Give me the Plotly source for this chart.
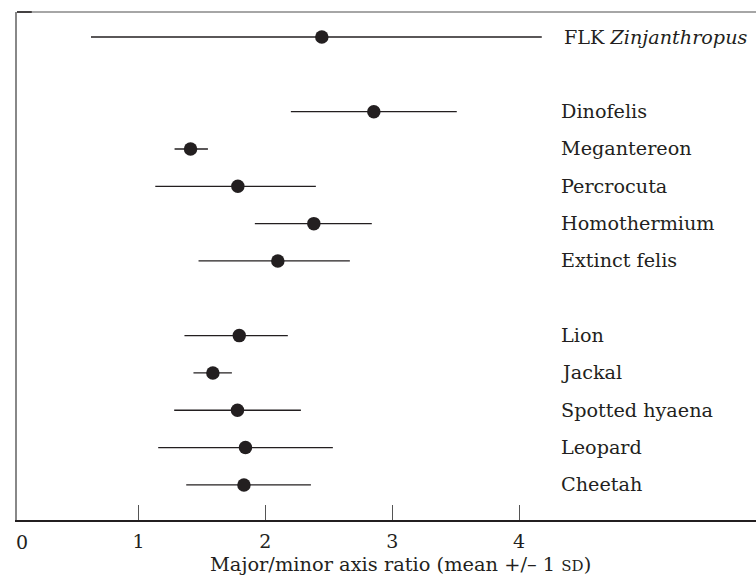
import plotly.graph_objects as go

# ---- data ----
labels = ["FLK <i>Zinjanthropus</i>", "Dinofelis", "Megantereon", "Percrocuta",
          "Homothermium", "Extinct felis", "Lion", "Jackal", "Spotted hyaena",
          "Leopard", "Cheetah"]
positions = [12, 10, 9, 8, 7, 6, 4, 3, 2, 1, 0]
means = [2.445, 2.855, 1.410, 1.783, 2.382, 2.098, 1.794, 1.586, 1.780, 1.843, 1.831]
lows = [0.625, 2.201, 1.284, 1.132, 1.917, 1.473, 1.362, 1.433, 1.281, 1.155, 1.376]
highs = [4.179, 3.509, 1.547, 2.398, 2.839, 2.666, 2.177, 1.736, 2.280, 2.532, 2.359]
tick_vals = [1, 2, 3, 4]
tick_text = ["1", "2", "3", "4"]
x_title = "Major/minor axis ratio (mean +/\u2013 1 <span style='font-size:15px'>SD</span>)"

INK = "#231f20"
FONT = "DejaVu Serif"
label_x = 4.315

fig = go.Figure()
fig.add_trace(go.Scatter(
    x=means, y=positions, mode="markers",
    marker=dict(size=13.5, color=INK),
    error_x=dict(type="data", symmetric=False,
                 array=[h - m for h, m in zip(highs, means)],
                 arrayminus=[m - l for m, l in zip(means, lows)],
                 color=INK, thickness=1.3, width=0),
    showlegend=False, hoverinfo="skip",
))

annotations = []
for i, (lab, p) in enumerate(zip(labels, positions)):
    annotations.append(dict(x=label_x, y=p, xref="x", yref="y", text=lab,
                            showarrow=False, xanchor="left", yanchor="middle",
                            xshift=3 if i == 0 else 0,
                            font=dict(family=FONT, size=19.2, color=INK)))
# "0" tick label at the left edge
annotations.append(dict(x=0, y=0, xref="paper", yref="paper", text="0",
                        showarrow=False, xanchor="left", yanchor="top",
                        xshift=-3, yshift=-9,
                        font=dict(family=FONT, size=19, color=INK)))
# axis title
annotations.append(dict(x=(400 - 16.7) / (756 - 16.7), y=0, xref="paper", yref="paper",
                        text=x_title, showarrow=False, xanchor="center", yanchor="top",
                        yshift=-31, font=dict(family=FONT, size=19.4, color=INK)))

fig.update_layout(
    width=756, height=577,
    margin=dict(l=16.7, r=0, t=12, b=57),
    plot_bgcolor="white", paper_bgcolor="white",
    annotations=annotations,
    xaxis=dict(range=[0.0418, 5.868], tickvals=tick_vals, ticktext=tick_text,
               ticks="inside", ticklen=15, tickwidth=1.2, tickcolor="#555",
               showline=True, linecolor=INK, linewidth=1.5,
               showgrid=False, zeroline=False,
               ticklabelstandoff=3,
               tickfont=dict(family=FONT, size=19, color=INK)),
    yaxis=dict(range=[-0.94, 12.67], showticklabels=False, ticks="",
               showline=True, linecolor="#888", linewidth=1.5,
               showgrid=False, zeroline=False),
    shapes=[dict(type="line", xref="paper", yref="paper", x0=0, x1=1, y0=1, y1=1,
                 line=dict(color="#888", width=1.5)),
            dict(type="line", xref="paper", yref="paper", x0=0, x1=0.02, y0=1, y1=1,
                 line=dict(color=INK, width=1.5))],
)

fig.write_html("out.html", config={"displayModeBar": False},
               post_script="document.body.style.margin='0px';document.body.style.overflow='hidden';")
